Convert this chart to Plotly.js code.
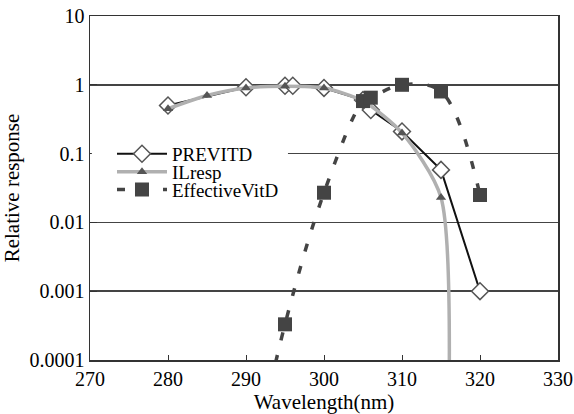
<!DOCTYPE html>
<html>
<head>
<meta charset="utf-8">
<script src="https://cdn.plot.ly/plotly-3.0.1.min.js"></script>
<style>html,body{margin:0;padding:0;background:#fff;}#chart{width:574px;height:414px;}</style>
</head>
<body>
<div id="chart"></div>
<script>
// PREVITD series
var previtdWl = [280, 290, 295, 296, 300, 305, 306, 310, 315, 320];
var previtdVal = [0.5, 0.92, 0.97, 0.97, 0.9, 0.6, 0.43, 0.21, 0.058, 0.001];
// ILresp series
var ilrespWl = [280, 285, 290, 295, 300, 305, 310, 315, 315.8];
var ilrespVal = [0.45, 0.7, 0.9, 0.95, 0.9, 0.58, 0.2, 0.023, 0.000001];
// EffectiveVitD series
var effWl = [290, 295, 300, 305, 306, 310, 315, 320];
var effVal = [0.000001, 0.00033, 0.027, 0.58, 0.65, 1.0, 0.8, 0.025];
// axis ticks
var yTickVals = [0.0001, 0.001, 0.01, 0.1, 1, 10];
var yTickText = ["0.0001", "0.001", "0.01", "0.1", "1", "10"];

var FONT = "Liberation Serif";

var traces = [
  {
    x: previtdWl, y: previtdVal, name: "PREVITD", type: "scatter", mode: "lines+markers",
    legend: "legend",
    line: {color: "#111", width: 2},
    marker: {symbol: "diamond", size: 13, color: "#fff", line: {color: "#555", width: 1.5}}
  },
  {
    x: ilrespWl, y: ilrespVal, name: "ILresp", type: "scatter", mode: "lines+markers",
    legend: "legend2",
    line: {color: "#b0b0b0", width: 3.5, shape: "spline", smoothing: 0.7},
    marker: {symbol: "triangle-up", size: 9, color: "#555"}
  },
  {
    x: effWl, y: effVal, name: "EffectiveVitD", type: "scatter", mode: "lines+markers",
    legend: "legend3",
    line: {color: "#444", width: 3.5, dash: "8px,15px", shape: "spline"},
    marker: {symbol: "square", size: 14, color: "#444"}
  }
];

function legendAt(yPaper) {
  return {
    x: 0.047, y: yPaper, xanchor: "left", yanchor: "middle",
    bgcolor: "rgba(0,0,0,0)", borderwidth: 0, itemwidth: 50,
    font: {family: FONT, size: 19, color: "#000"}
  };
}

var layout = {
  width: 574, height: 414,
  margin: {l: 90, r: 16, t: 16, b: 54},
  paper_bgcolor: "#fff", plot_bgcolor: "#fff",
  font: {family: FONT, color: "#000", size: 19},
  showlegend: true,
  legend: legendAt(0.599),
  legend2: legendAt(0.547),
  legend3: legendAt(0.495),
  shapes: [{
    type: "rect", xref: "paper", yref: "paper", layer: "above",
    x0: 0.004, x1: 0.423, y0: 0.466, y1: 0.628,
    fillcolor: "#fff", line: {width: 0}
  }],
  xaxis: {
    range: [270, 330], tick0: 270, dtick: 10,
    showgrid: false, zeroline: false,
    showline: true, mirror: true, linecolor: "#333", linewidth: 1.5,
    ticks: "inside", ticklen: 5, tickcolor: "#333",
    tickfont: {family: FONT, size: 20},
    title: {text: "Wavelength(nm)", font: {family: FONT, size: 21}, standoff: 8}
  },
  yaxis: {
    type: "log", range: [-4, 1],
    tickmode: "array", tickvals: yTickVals, ticktext: yTickText,
    showgrid: true, gridcolor: "#444", gridwidth: 1.5,
    zeroline: false,
    showline: true, mirror: true, linecolor: "#333", linewidth: 1.5,
    ticks: "inside", ticklen: 7, tickcolor: "#333",
    tickfont: {family: FONT, size: 20},
    title: {text: "Relative response", font: {family: FONT, size: 21}, standoff: 8}
  }
};

Plotly.newPlot("chart", traces, layout, {staticPlot: true, displayModeBar: false});
</script>
</body>
</html>
